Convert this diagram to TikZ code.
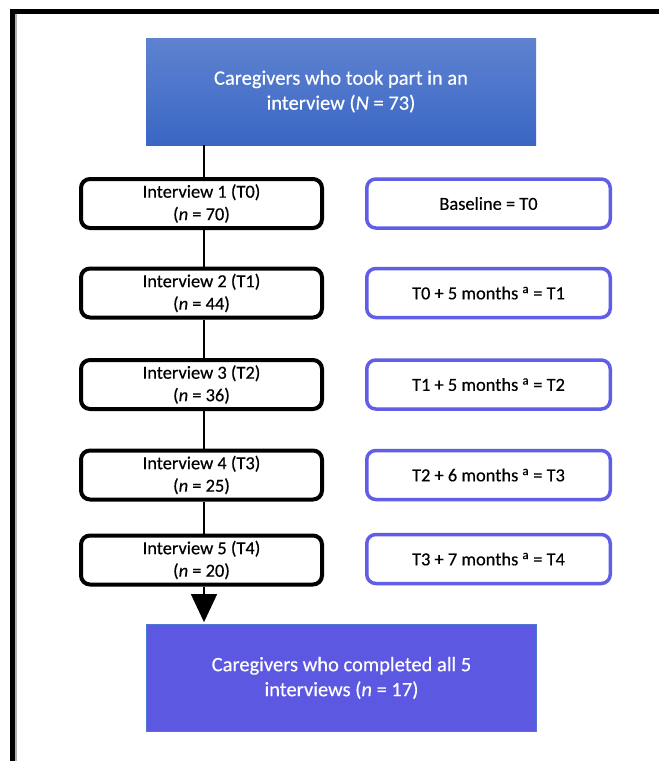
\documentclass[tikz,border=0pt]{standalone}
\usepackage{fontspec}
\setmainfont{Carlito}[UprightFeatures={FakeBold=0.35},ItalicFeatures={FakeBold=0.35}]
\usetikzlibrary{arrows.meta}
\definecolor{topA}{RGB}{94,130,208}
\definecolor{topB}{RGB}{58,103,196}
\definecolor{botfill}{RGB}{92,88,226}
\definecolor{botline}{RGB}{80,120,210}
\definecolor{purp}{RGB}{96,94,230}
\tikzset{
  bigbox/.style={rectangle, minimum width=390pt, minimum height=107pt, inner sep=0pt, align=center, text=white, font=\fontsize{20.5}{25}\selectfont},
  ivbox/.style={rectangle, rounded corners=9pt, draw=black, line width=4pt, fill=white, minimum width=241pt, minimum height=49pt, inner sep=0pt, align=center, font=\fontsize{18.4}{22.5}\selectfont},
  tbox/.style={rectangle, rounded corners=9pt, draw=purp, line width=3.5pt, fill=white, minimum width=243.5pt, minimum height=49pt, inner sep=0pt, align=center, font=\fontsize{18.4}{22.5}\selectfont},
  conn/.style={line width=1.6pt, draw=black}
}
\begin{document}
\begin{tikzpicture}[x=1pt,y=-1pt]
\useasboundingbox (0,0) rectangle (659,761);
\fill[white] (0,0) rectangle (659,761);
% frame
\fill[gray!60] (15,14) rectangle (17,761);
\fill[black] (10,9) rectangle (659,14);
\fill[black] (10,9) rectangle (15,761);
% top box
\node[bigbox, top color=topA, bottom color=topB] (top) at (341,91.5) {Caregivers who took part in an\\interview (\textit{N} = 73)};
% interview boxes
\node[ivbox] (i1) at (201.5,203.5) {Interview 1 (T0)\\(\textit{n} = 70)};
\node[ivbox] (i2) at (201.5,293) {Interview 2 (T1)\\(\textit{n} = 44)};
\node[ivbox] (i3) at (201.5,384.5) {Interview 3 (T2)\\(\textit{n} = 36)};
\node[ivbox] (i4) at (201.5,475) {Interview 4 (T3)\\(\textit{n} = 25)};
\node[ivbox] (i5) at (201.5,560) {Interview 5 (T4)\\(\textit{n} = 20)};
% time boxes
\node[tbox] (t0) at (488.5,203.5) {Baseline = T0};
\node[tbox] (t1) at (488.5,293) {T0 + 5 months \textsuperscript{a} = T1};
\node[tbox] (t2) at (488.5,384.5) {T1 + 5 months \textsuperscript{a} = T2};
\node[tbox] (t3) at (488.5,475) {T2 + 6 months \textsuperscript{a} = T3};
\node[tbox] (t4) at (488.5,559) {T3 + 7 months \textsuperscript{a} = T4};
% bottom box
\node[bigbox, fill=botfill, draw=botline, line width=0.8pt] (bot) at (341.5,678) {Caregivers who completed all 5\\interviews (\textit{n} = 17)};
% connectors
\coordinate (lx) at (204,0);
\draw[conn] (top.south -| lx) -- (i1.north -| lx);
\draw[conn] (i1.south -| lx) -- (i2.north -| lx);
\draw[conn] (i2.south -| lx) -- (i3.north -| lx);
\draw[conn] (i3.south -| lx) -- (i4.north -| lx);
\draw[conn] (i4.south -| lx) -- (i5.north -| lx);
\draw[conn, -{Triangle[width=26pt,length=28pt]}] (i5.south -| lx) -- ([yshift=2pt]bot.north -| lx);
\end{tikzpicture}
\end{document}
